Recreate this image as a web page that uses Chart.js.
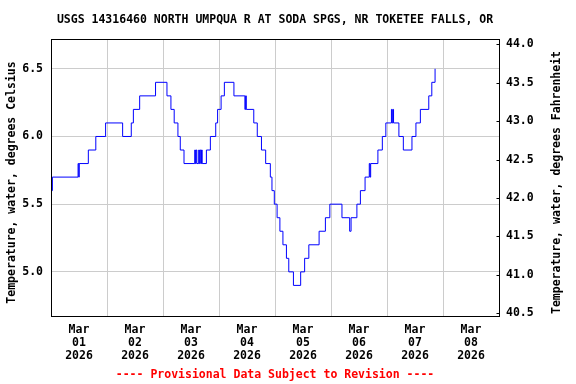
<!DOCTYPE html>
<html lang="en">
<head>
<meta charset="UTF-8" />
<title>USGS 14316460 water temperature</title>
<script src="https://cdn.jsdelivr.net/npm/chart.js"></script>
<style>
	html, body { margin: 0; padding: 0; background: #ffffff; }
	#chart { display: block; }
</style>
</head>
<body>
<canvas id="chart" width="576" height="384"></canvas>
<script>
// hours since Mar 01 2026 00:00, and the reading that starts at that time
const hours = [
	0, 0.6, 11.6, 11.9, 12.1, 16.0, 19.2, 23.4, 30.7, 34.4, 35.3, 38.0,
	44.8, 49.7, 51.4, 52.8, 54.4, 55.4, 57.0, 61.6, 61.9, 62.2, 62.5,
	63.3, 63.6, 63.9, 64.2, 64.5, 64.8, 66.6, 68.3, 70.6, 71.4, 72.9,
	74.3, 78.4, 83.1, 83.4, 83.7, 86.9, 88.4, 90.2, 92.0, 94.0, 94.7,
	95.7, 96.9, 98.1, 99.4, 100.9, 101.9, 103.9, 107.0, 108.7, 110.5,
	114.9, 117.6, 119.5, 124.7, 128.0, 128.6, 131.1, 132.6, 134.6, 136.4,
	136.7, 137.0, 140.1, 142.0, 143.5, 145.9, 146.2, 146.5, 146.8, 149.1,
	151.0, 154.7, 156.4, 158.3, 161.9, 163.2, 164.6
];
const tempC = [
	5.6, 5.7, 5.8, 5.7, 5.8, 5.9, 6.0, 6.1, 6.0, 6.1, 6.2, 6.3,
	6.4, 6.3, 6.2, 6.1, 6.0, 5.9, 5.8, 5.9, 5.8, 5.9, 5.8,
	5.9, 5.8, 5.9, 5.8, 5.9, 5.8, 5.9, 6.0, 6.1, 6.2, 6.3,
	6.4, 6.3, 6.2, 6.3, 6.2, 6.1, 6.0, 5.9, 5.8, 5.7, 5.6,
	5.5, 5.4, 5.3, 5.2, 5.1, 5.0, 4.9, 5.0, 5.1, 5.2,
	5.3, 5.4, 5.5, 5.4, 5.3, 5.4, 5.5, 5.6, 5.7, 5.8,
	5.7, 5.8, 5.9, 6.0, 6.1, 6.2, 6.1, 6.2, 6.1, 6.0,
	5.9, 6.0, 6.1, 6.2, 6.3, 6.4, 6.5
];

const dateLabels = [
	['Mar', '01', '2026'], ['Mar', '02', '2026'], ['Mar', '03', '2026'], ['Mar', '04', '2026'],
	['Mar', '05', '2026'], ['Mar', '06', '2026'], ['Mar', '07', '2026'], ['Mar', '08', '2026']
];
const labelHours = [12, 36, 60, 84, 108, 132, 156, 180];
const gridHours = [24, 48, 72, 96, 120, 144, 168];
const celsiusTicks = [5.0, 5.5, 6.0, 6.5];
const fahrenheitTicks = [40.5, 41.0, 41.5, 42.0, 42.5, 43.0, 43.5, 44.0];

const TITLE = 'USGS 14316460 NORTH UMPQUA R AT SODA SPGS, NR TOKETEE FALLS, OR';
const FOOTER = '---- Provisional Data Subject to Revision ----';
const LEFT_TITLE = 'Temperature, water, degrees Celsius';
const RIGHT_TITLE = 'Temperature, water, degrees Fahrenheit';

const FONT_FAMILY = '"DejaVu Sans Mono", "Liberation Mono", monospace';
const tickFont = { family: FONT_FAMILY, size: 11.5, weight: 'bold', lineHeight: 1.13 };

const textPlugin = {
	id: 'usgsText',
	afterDraw(chart) {
		const { ctx, chartArea } = chart;
		const midX = (chartArea.left + chartArea.right) / 2;
		const midY = (chartArea.top + chartArea.bottom) / 2 + 5;

		ctx.save();
		ctx.font = 'bold 11.5px ' + FONT_FAMILY;
		ctx.textAlign = 'center';
		ctx.textBaseline = 'middle';

		ctx.fillStyle = '#000000';
		ctx.fillText(TITLE, midX, 20);

		ctx.fillStyle = '#ff0000';
		ctx.fillText(FOOTER, midX, 375);

		ctx.fillStyle = '#000000';
		ctx.save();
		ctx.translate(12, midY);
		ctx.rotate(-Math.PI / 2);
		ctx.fillText(LEFT_TITLE, 0, 0);
		ctx.restore();

		ctx.save();
		ctx.translate(557, midY);
		ctx.rotate(-Math.PI / 2);
		ctx.fillText(RIGHT_TITLE, 0, 0);
		ctx.restore();

		// plot frame
		ctx.strokeStyle = '#000000';
		ctx.lineWidth = 1;
		ctx.strokeRect(Math.round(chartArea.left) + 0.5, Math.round(chartArea.top) + 0.5,
			Math.round(chartArea.right - chartArea.left), Math.round(chartArea.bottom - chartArea.top));

		// inward ticks on the Fahrenheit axis
		const yF = chart.scales.yF;
		const right = Math.round(chartArea.right) + 0.5;
		ctx.beginPath();
		for (const v of fahrenheitTicks) {
			const y = Math.round(yF.getPixelForValue(v)) + 0.5;
			ctx.moveTo(right - 3, y);
			ctx.lineTo(right, y);
		}
		ctx.stroke();
		ctx.restore();
	},
};

new Chart(document.getElementById('chart'), {
	type: 'line',
	data: {
		datasets: [{
			data: hours.map((h, i) => ({ x: h, y: tempC[i] })),
			borderColor: '#0000ff',
			borderWidth: 1,
			pointRadius: 0,
			stepped: true,
			fill: false,
		}],
	},
	options: {
		responsive: false,
		devicePixelRatio: 1,
		animation: false,
		layout: { padding: { left: 0, right: 0, top: 39, bottom: 0 } },
		plugins: {
			legend: { display: false },
			tooltip: { enabled: false },
		},
		scales: {
			x: {
				type: 'linear',
				min: 0,
				max: 192,
				afterBuildTicks(scale) {
					scale.ticks = [...gridHours, ...labelHours].sort((a, b) => a - b).map((v) => ({ value: v }));
				},
				afterFit(scale) { scale.height = 68; },
				grid: {
					color: (c) => (c.tick && gridHours.includes(c.tick.value) ? '#cccccc' : 'rgba(0,0,0,0)'),
					lineWidth: 1,
					drawTicks: false,
				},
				border: { display: false },
				ticks: {
					autoSkip: false,
					maxRotation: 0,
					padding: 8,
					color: '#000000',
					font: tickFont,
					callback: (v) => {
						const i = labelHours.indexOf(v);
						return i === -1 ? '' : dateLabels[i];
					},
				},
			},
			y: {
				position: 'left',
				min: 4.674,
				max: 6.72,
				afterBuildTicks(scale) {
					scale.ticks = celsiusTicks.map((v) => ({ value: v }));
				},
				afterFit(scale) { scale.width = 51; },
				grid: { color: '#cccccc', lineWidth: 1, drawTicks: false },
				border: { display: false },
				ticks: {
					padding: 8,
					color: '#000000',
					font: tickFont,
					callback: (v) => Number(v).toFixed(1),
				},
			},
			yF: {
				position: 'right',
				min: 40.465,
				max: 44.068,
				afterBuildTicks(scale) {
					scale.ticks = fahrenheitTicks.map((v) => ({ value: v }));
				},
				afterFit(scale) { scale.width = 77; },
				grid: { drawOnChartArea: false, drawTicks: false },
				border: { display: false },
				ticks: {
					padding: 7,
					color: '#000000',
					font: tickFont,
					callback: (v) => Number(v).toFixed(1),
				},
			},
		},
	},
	plugins: [textPlugin],
});
</script>
</body>
</html>
